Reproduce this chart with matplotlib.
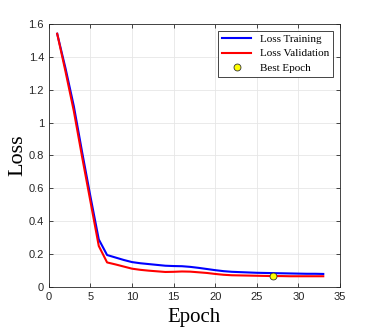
import matplotlib
matplotlib.use('Agg')
import matplotlib.pyplot as plt

# data
epochs = list(range(1, 34))
loss_train = [1.54, 1.33, 1.10, 0.82, 0.55, 0.29, 0.195, 0.180, 0.165, 0.152, 0.145,
              0.140, 0.135, 0.130, 0.128, 0.127, 0.123, 0.117, 0.110, 0.103, 0.097,
              0.093, 0.091, 0.089, 0.087, 0.086, 0.085, 0.084, 0.083, 0.082, 0.081,
              0.081, 0.080]
loss_val = [1.54, 1.31, 1.07, 0.79, 0.52, 0.25, 0.150, 0.138, 0.125, 0.112, 0.105,
            0.100, 0.096, 0.092, 0.093, 0.095, 0.094, 0.090, 0.086, 0.080, 0.075,
            0.072, 0.071, 0.070, 0.069, 0.068, 0.067, 0.067, 0.066, 0.066, 0.066,
            0.066, 0.066]
best_epoch = 27
best_loss = 0.066

fig = plt.figure(figsize=(3.76, 3.27), dpi=100)
ax = fig.add_axes([0.130, 0.122, 0.774, 0.805])

ax.plot(epochs, loss_train, color='#0000ff', lw=1.5, label='Loss Training')
ax.plot(epochs, loss_val, color='#ff0000', lw=1.5, label='Loss Validation')
ax.plot(best_epoch, best_loss, 'o', ms=5, mfc='#ffff00', mec='#333333', mew=0.6,
        ls='none', label='Best Epoch')

ax.set_xlim(0, 35)
ax.set_ylim(0, 1.6)
ax.set_xticks(range(0, 36, 5))
ax.set_yticks([0, 0.2, 0.4, 0.6, 0.8, 1, 1.2, 1.4, 1.6])
ax.set_yticklabels(['0', '0.2', '0.4', '0.6', '0.8', '1', '1.2', '1.4', '1.6'])
ax.grid(True, color='#e6e6e6', lw=0.6)
ax.set_axisbelow(True)
ax.tick_params(direction='in', length=3, width=0.6, colors='#262626', labelsize=8,
               top=True, right=True, labeltop=False, labelright=False)
for lab in ax.get_xticklabels() + ax.get_yticklabels():
    lab.set_family('Liberation Sans')
for sp in ax.spines.values():
    sp.set_color('#262626')
    sp.set_linewidth(0.6)

ax.set_xlabel('Epoch', family='Liberation Serif', fontsize=15, labelpad=4)
ax.set_ylabel('Loss', family='Liberation Serif', fontsize=16, labelpad=1)

leg = ax.legend(loc='upper right', prop={'family': 'Liberation Serif', 'size': 8},
                fancybox=False, framealpha=1, edgecolor='#262626',
                borderaxespad=0.6, handlelength=2.6, labelspacing=0.4,
                borderpad=0.35)
leg.get_frame().set_linewidth(0.6)

fig.savefig('out.png', dpi=100)
